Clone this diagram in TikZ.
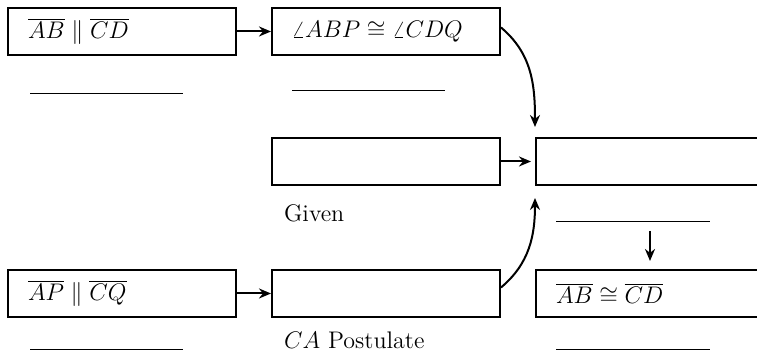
\documentclass[tikz,border=0pt]{standalone}
\usepackage{tikz}
\usetikzlibrary{arrows.meta, positioning, calc}

\begin{document}
\begin{tikzpicture}[
    x=0.5pt, y=0.5pt,
    font=\fontsize{12}{14}\selectfont,
    stepbox/.style={rectangle, draw=black, line width=1pt, text width=94pt, inner xsep=10pt, align=left, minimum height=23.5pt},
    blank/.style={line width=0.5pt},
    arrow/.style={line width=1pt,->,>={Stealth[length=6pt,width=5pt]}}
]
\useasboundingbox (0,0) rectangle (757,356);

% Statements
\node[stepbox] (par1) at (122,324.5) {$\overline{AB}\parallel\overline{CD}$};
\node[stepbox] (ang) at (386,324.5) {$\angle ABP\cong\angle CDQ$};
\node[stepbox] (given) at (386,194.5) {};
\node[stepbox] (mid) at (650,194.5) {};
\node[stepbox] (par2) at (122,62.5) {$\overline{AP}\parallel\overline{CQ}$};
\node[stepbox] (post) at (386,62.5) {};
\node[stepbox] (concl) at (650,62.5) {$\overline{AB}\cong\overline{CD}$};

% Reasons
\node[anchor=west] (givenlbl) at (277,143) {Given};
\node[anchor=west] (postlbl) at (277,16) {$CA$ Postulate};
\draw[blank] (30,262) -- (183,262);
\draw[blank] (292,265) -- (445,265);
\draw[blank] (556,134) -- (710,134);
\draw[blank] (30,6) -- (183,6);
\draw[blank] (556,6) -- (710,6);

% Connections
\draw[arrow] (par1) -- (ang);
\draw[arrow] (par2) -- (post);
\draw[arrow, shorten >=2pt] (given) -- (mid);
\draw[arrow] ([yshift=2pt]ang.east) to[out=-40,in=90] ([yshift=5pt]mid.north west);
\draw[arrow] ([yshift=3pt]post.east) to[out=40,in=-90] ([yshift=-6pt]mid.south west);
\draw[arrow, shorten <=22.5pt, shorten >=4pt] (mid) -- (concl);

\end{tikzpicture}
\end{document}
